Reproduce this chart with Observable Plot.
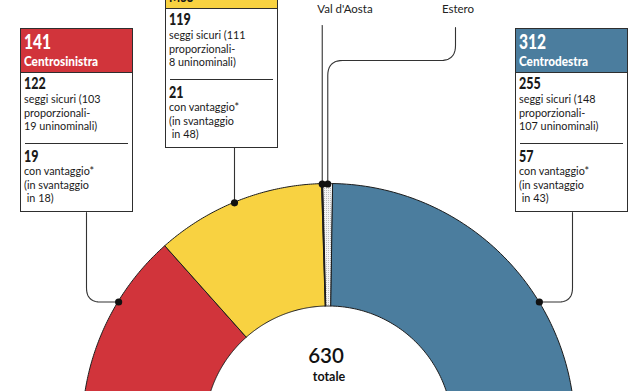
<!DOCTYPE html>
<html><head><meta charset="utf-8">
<script src="https://cdn.jsdelivr.net/npm/d3@7"></script>
<script src="https://cdn.jsdelivr.net/npm/@observablehq/plot@0.6"></script>
<style>
html,body{margin:0;padding:0;background:#fff;}
#wrap{position:relative;width:637px;height:391px;overflow:hidden;font-family:Lato,"Open Sans",sans-serif;color:#1a1a1a;}
#wrap svg{position:absolute;left:0;top:0;}
.box{position:absolute;width:111px;height:182px;border:1px solid #2e2e2e;background:#fff;}
.hd{position:absolute;left:0;top:0;width:111px;height:43px;border-bottom:1px solid #2e2e2e;}
.ln{position:absolute;left:3px;white-space:pre;line-height:1;transform-origin:0 0;}
.sep{position:absolute;left:4px;width:103px;height:0;border-top:1px solid #2e2e2e;}
</style>
</head><body>
<div id="wrap"></div>
<script>
// ---- data ----
const parties = ["Centrodestra", "Estero", "Val d'Aosta", "M5S", "Centrosinistra"]; // right to left
const seats = [312, 8, 1, 140, 141];
const colors = ["#4b7d9e", "url(#dots)", "#1a1a1a", "#f8d241", "#d1343b"];
const total = 630;
const totalLabel = "totale";

const boxNames = ["Centrosinistra", "M5S", "Centrodestra"];
const boxTotals = [141, 140, 312];
const boxColors = ["#d1343b", "#f8d241", "#4b7d9e"];
const boxText = ["#ffffff", "#1a1a1a", "#ffffff"];
const sure = [122, 119, 255];
const sureProp = [103, 111, 148];
const sureUni = [19, 8, 107];
const ahead = [19, 21, 57];
const behind = [18, 48, 43];

// ---- layout ----
const W = 637, H = 391;
const cx = 328.5, cy = 430, R = 246.5, r = 124;
const boxPos = [{left: 20, top: 28, lx: 86}, {left: 165, top: -36, lx: 234}, {left: 515, top: 28, lx: 572}];

// arc polygons from cumulative seats
let cum = 0;
const arcPts = [];
const slices = parties.map((p, i) => {
  const a0 = cum / total * Math.PI; cum += seats[i];
  const a1 = cum / total * Math.PI;
  const N = 80;
  for (let k = 0; k <= N; k++) {
    const t = a0 + (a1 - a0) * k / N;
    arcPts.push({party: p, xo: cx + R * Math.cos(t), yo: cy - R * Math.sin(t), xi: cx + r * Math.cos(t), yi: cy - r * Math.sin(t)});
  }
  return {party: p, a0, a1, mid: (a0 + a1) / 2};
});
const sl = Object.fromEntries(slices.map(s => [s.party, s]));

function rounded(pts, rad, steps = 10) {
  const out = [pts[0]];
  for (let i = 1; i < pts.length - 1; i++) {
    const [px, py] = pts[i - 1], [x, y] = pts[i], [nx, ny] = pts[i + 1];
    const d1 = Math.hypot(x - px, y - py), d2 = Math.hypot(nx - x, ny - y);
    const rr = Math.min(rad, d1 / 2, d2 / 2);
    const ax = x + (px - x) / d1 * rr, ay = y + (py - y) / d1 * rr;
    const bx = x + (nx - x) / d2 * rr, by = y + (ny - y) / d2 * rr;
    for (let s = 0; s <= steps; s++) {
      const t = s / steps;
      out.push([(1 - t) * (1 - t) * ax + 2 * (1 - t) * t * x + t * t * bx, (1 - t) * (1 - t) * ay + 2 * (1 - t) * t * y + t * t * by]);
    }
  }
  out.push(pts[pts.length - 1]);
  return out;
}

const hy = 301.5;
const redDot = [cx - Math.sqrt(R * R - (cy - hy) ** 2), hy];
const blueDot = [cx + Math.sqrt(R * R - (cy - hy) ** 2), hy];
const yx = boxPos[1].lx;
const yelDot = [yx, cy - Math.sqrt(R * R - (yx - cx) ** 2)];
const vda = sl["Val d'Aosta"], est = sl["Estero"];
const vdaDot = [cx + R * Math.cos(vda.mid), cy - R * Math.sin(vda.mid)];
const estDot = [cx + R * Math.cos(est.mid), cy - R * Math.sin(est.mid)];

const leaders = [
  {id: "cs", pts: rounded([[boxPos[0].lx, 212], [boxPos[0].lx, hy], redDot], 14)},
  {id: "cd", pts: rounded([[boxPos[2].lx, 212], [boxPos[2].lx, hy], blueDot], 14)},
  {id: "m5s", pts: [[yx, 147], yelDot]},
  {id: "vda", pts: [[vdaDot[0], 25], vdaDot]},
  {id: "est", pts: rounded([[455, 27], [455, 60], [estDot[0], 60], estDot], 15)}
];
const leaderPts = leaders.flatMap(l => l.pts.map(([x, y]) => ({id: l.id, x, y})));
const dots = [redDot, blueDot, yelDot, vdaDot, estDot].map(([x, y]) => ({x, y}));

const font = 'Lato,"Open Sans",sans-serif';
const chart = Plot.plot({
  width: W, height: H, margin: 0,
  x: {domain: [0, W], range: [0, W], axis: null},
  y: {domain: [0, H], range: [0, H], axis: null},
  color: {domain: parties, range: colors},
  style: {fontFamily: font, background: "#fff"},
  marks: [
    Plot.area(arcPts, {x1: "xo", y1: "yo", x2: "xi", y2: "yi", z: "party", fill: "party", stroke: "#1c1c1c", strokeWidth: 1}),
    Plot.line(leaderPts, {x: "x", y: "y", z: "id", stroke: "#333", strokeWidth: 1.1}),
    Plot.dot(dots, {x: "x", y: "y", r: 3.6, fill: "#111", stroke: "none"}),
    Plot.text([String(total)], {x: cx - 3, y: 362, text: d => d, fontSize: 20.5, fontWeight: 600, textAnchor: "middle", lineAnchor: "bottom", fill: "#111"}),
    Plot.text([totalLabel], {x: cx, y: 380.5, text: d => d, fontSize: 12.5, fontWeight: 700, textAnchor: "middle", lineAnchor: "bottom", fill: "#111"}),
    Plot.text(["Val d'Aosta"], {x: vdaDot[0] - 5, y: 12, text: d => d, fontSize: 11.5, textAnchor: "start", lineAnchor: "bottom", fill: "#222"}),
    Plot.text(["Estero"], {x: 457.5, y: 12, text: d => d, fontSize: 11.5, textAnchor: "middle", lineAnchor: "bottom", fill: "#222"})
  ]
});
const defs = d3.select(chart).insert("defs", ":first-child");
const pat = defs.append("pattern").attr("id", "dots").attr("width", 2).attr("height", 2).attr("patternUnits", "userSpaceOnUse");
pat.append("rect").attr("width", 2).attr("height", 2).attr("fill", "#f4f4f4");
pat.append("rect").attr("width", 1).attr("height", 1).attr("fill", "#bdbdbd");

const wrap = document.getElementById("wrap");
wrap.appendChild(chart);

// boxes
function line(parent, text, baseline, size, weight, sx, color) {
  const d = document.createElement("div");
  d.className = "ln";
  d.textContent = text;
  d.style.fontSize = size + "px";
  d.style.fontWeight = weight;
  d.style.transform = `scaleX(${sx})`;
  if (color) d.style.color = color;
  d.style.top = (baseline - 0.9 * size) + "px";
  parent.appendChild(d);
}
boxNames.forEach((name, i) => {
  const p = boxPos[i];
  const b = document.createElement("div");
  b.className = "box";
  b.style.left = p.left + "px"; b.style.top = p.top + "px";
  const h = document.createElement("div");
  h.className = "hd"; h.style.background = boxColors[i];
  b.appendChild(h);
  line(h, String(boxTotals[i]), 19.8, 21, 900, 0.74, boxText[i]);
  line(h, name, 37.5, 14, 900, 0.84, boxText[i]);
  line(b, String(sure[i]), 60.5, 16, 900, 0.78);
  line(b, `seggi sicuri (${sureProp[i]}`, 75.5, 12.3, 400, 0.88);
  line(b, "proporzionali-", 89, 12.3, 400, 0.88);
  line(b, `${sureUni[i]} uninominali)`, 102.5, 12.3, 400, 0.88);
  const s = document.createElement("div"); s.className = "sep"; s.style.top = "113.5px"; b.appendChild(s);
  line(b, String(ahead[i]), 133, 16, 900, 0.78);
  line(b, "con vantaggio*", 147.5, 12.3, 400, 0.88);
  line(b, "(in svantaggio", 161, 12.3, 400, 0.88);
  line(b, ` in ${behind[i]})`, 174.5, 12.3, 400, 0.88);
  wrap.appendChild(b);
});
</script>
</body></html>
